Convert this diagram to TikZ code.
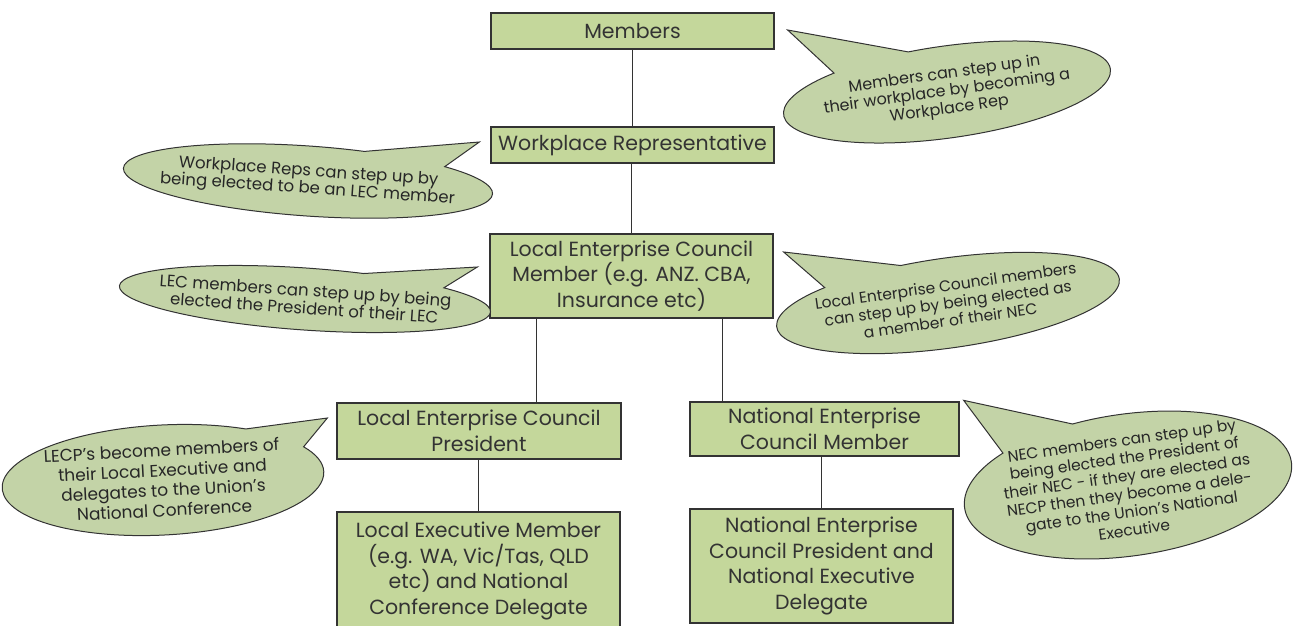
\documentclass[tikz,border=0pt]{standalone}
\usepackage{fontspec}
\setmainfont{Poppins}
\usetikzlibrary{shapes.callouts}
\definecolor{boxgreen}{HTML}{C4D79B}
\definecolor{bubblegreen}{HTML}{C3D3A7}
\definecolor{edgegray}{HTML}{333333}
\begin{document}
\begin{tikzpicture}[x=1pt, y=-1pt,
    box/.style={draw=edgegray, fill=boxgreen, line width=1.3pt, align=center, inner sep=0pt,
      text=black!80, font=\fontsize{20.5}{25.5}\selectfont},
    bubble/.style={ellipse callout, draw=edgegray, fill=bubblegreen, line width=1pt, align=center,
      inner xsep=-90pt, inner ysep=-40pt, callout pointer arc=30, text=black!85,
      font=\fontsize{16}{17.5}\selectfont},
    link/.style={draw=edgegray, line width=1pt}]
  \useasboundingbox (0,0) rectangle (1293,625);
  % chart boxes
  \node[box, minimum width=283pt, minimum height=36pt] (mem) at (632.5,31) {Members};
  \node[box, minimum width=283pt, minimum height=36pt] (wrep) at (632.5,145) {Workplace Representative};
  \node[box, minimum width=283pt, minimum height=84pt] (lecm) at (631.5,276)
    {Local Enterprise Council\\Member (e.g. ANZ. CBA,\\Insurance etc)};
  \node[box, minimum width=284pt, minimum height=56pt] (lecp) at (479,431)
    {Local Enterprise Council\\President};
  \node[box, minimum width=269pt, minimum height=54pt] (necm) at (824.5,429)
    {National Enterprise\\Council Member};
  \node[box, minimum width=283pt, minimum height=118pt] (lem) at (478.5,571)
    {Local Executive Member\\(e.g. WA, Vic/Tas, QLD\\etc) and National\\Conference Delegate};
  \node[box, minimum width=263pt, minimum height=114pt] (necp) at (821.5,566)
    {National Enterprise\\Council President and\\National Executive\\Delegate};
  % links
  \coordinate (lsplit) at (536,0); \coordinate (rsplit) at (722,0);
  \foreach \a/\b in {mem/wrep, wrep/lecm, lecp/lem, necm/necp}
    \draw[link] (\b.north) -- (\b.north |- \a.south);
  \draw[link] (lecm.south -| lsplit) -- (lecp.north -| lsplit);
  \draw[link] (lecm.south -| rsplit) -- (necm.north -| rsplit);
  % callouts
  \node[bubble, rotate=8, minimum width=330pt, minimum height=92pt,
    callout absolute pointer={([xshift=13pt,yshift=1pt]mem.east)}] (tipmem) at (947,92)
    {Members can step up in\\their workplace by becoming a\\Workplace Rep};
  \node[bubble, rotate=-4, minimum width=370pt, minimum height=70pt, font=\fontsize{16.5}{17.5}\selectfont,
    callout absolute pointer={([xshift=-11pt,yshift=3pt]wrep.west)}] (tipwrep) at (308,181)
    {Workplace Reps can step up by\\being elected to be an LEC member};
  \node[bubble, rotate=-4, minimum width=372pt, minimum height=62pt, font=\fontsize{16.5}{17.5}\selectfont,
    callout absolute pointer={([xshift=-12pt,yshift=9pt]lecm.west)}] (tiplecm) at (305,299)
    {LEC members can step up by being\\elected the President of their LEC};
  \node[bubble, rotate=8, minimum width=346pt, minimum height=90pt, font=\fontsize{15.5}{17.5}\selectfont,
    callout absolute pointer={([xshift=10pt,yshift=24pt]lecm.east)}] (tipnec) at (948,303)
    {Local Enterprise Council members\\can step up by being elected as\\a member of their NEC};
  \node[bubble, rotate=3, minimum width=322pt, minimum height=110pt, font=\fontsize{17}{20}\selectfont,
    callout absolute pointer={([xshift=-9pt,yshift=13pt]lecp.west)}] (tiplecp) at (163,480)
    {LECP’s become members of\\their Local Executive and\\delegates to the Union’s\\National Conference};
  \node[bubble, rotate=8, minimum width=330pt, minimum height=142pt, font=\fontsize{15.5}{18}\selectfont,
    callout absolute pointer={([xshift=4pt,yshift=1pt]necm.north east)}] (tipnecm) at (1128,485)
    {NEC members can step up by\\being elected the President of\\their NEC - if they are elected as\\NECP then they become a dele-\\gate to the Union’s National\\Executive};
\end{tikzpicture}
\end{document}
